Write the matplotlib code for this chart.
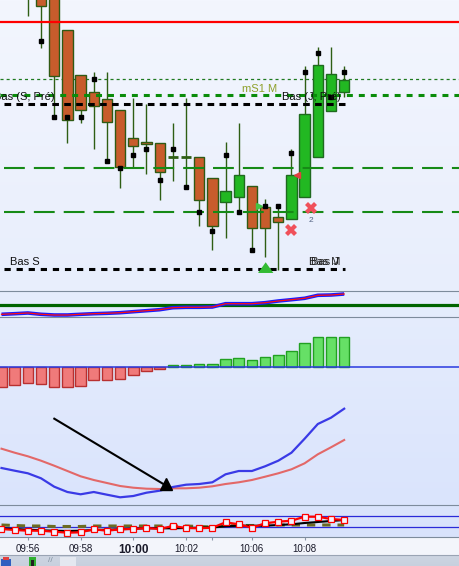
import numpy as np
import matplotlib.pyplot as plt
from matplotlib.patches import Rectangle

plt.rcParams['font.family'] = ['Liberation Sans', 'DejaVu Sans']
plt.rcParams['lines.scale_dashes'] = False

W, H = 459, 566
STEP = 13.18   # pixels per bar
X0 = 1.5       # pixel position of bar 0


def xi(px):
    # pixel column -> bar index (used only for labels / level lines)
    return (px - X0) / STEP


bars = list(range(27))
time_ticks = [2, 6, 10, 14, 16, 19, 23]
time_labels = ['09:56', '09:58', '10:00', '10:02', '', '10:06', '10:08']

candle_i = list(range(2, 27))
c_open = [-40, -15, -5, 30, 75, 92, 99, 110, 138, 142, 143, 157, 157, 157, 178,
          202, 197, 186, 207, 217, 219, 197, 157, 111, 92]
c_close = [-5, 6, 76, 120, 110, 106, 122, 167, 146, 144, 172, 157, 157, 200, 226,
           191, 175, 228, 228, 222, 175, 114, 65, 74, 80]
c_high = [-50, -25, -10, 30, 75, 72, 72, 110, 98, 104, 143, 123, 98, 157, 178,
          142, 123, 186, 199, 204, 149, 66, 47, 47, 66]
c_low = [16, 48, 117, 143, 123, 149, 161, 188, 167, 174, 200, 181, 188, 226, 250,
         238, 212, 250, 257, 270, 219, 197, 157, 111, 97]

stop_i = list(range(3, 27))
stop_lvl = [41, 117, 117, 117, 79, 161, 168, 155, 149, 180, 149, 187, 212, 231,
            155, 212, 250, 206, 206, 153, 72, 53, 97, 72]

trend = [314.3, 313.7, 313, 314.3, 315, 315, 314.3, 313.7, 313.3, 312.7, 311.7,
         310.7, 309.7, 307.7, 307.3, 307.3, 307, 303.7, 303.7, 303.7, 302.7, 301,
         299.7, 298.3, 295.3, 295, 294]

hist = [-20, -18, -16, -17, -20, -20, -19, -13, -13, -12, -8, -4, -2, 2, 2.7,
        3.7, 3.7, 8.7, 9.7, 7.7, 10.7, 12.7, 16.7, 24.7, 30.7, 30.7, 30.7]

fast = [468, 470.7, 473.3, 478.3, 486.7, 492, 494.3, 492, 494.7, 497.3, 496,
        492.7, 490.7, 487, 484.7, 484, 482.3, 474.3, 471, 471, 466.3, 460.7,
        452.7, 438.7, 424, 417.7, 408.7]
slow = [448.7, 452.7, 456.3, 460.7, 465.7, 471, 476.3, 480, 483, 486, 487.7,
        488.7, 489, 488.3, 488.3, 487.7, 486.3, 484, 482.3, 480, 476.7, 473.3,
        469.3, 463.3, 454.3, 447.3, 440]

osc_red = [529, 530, 530.7, 530.7, 531.7, 532.7, 532.3, 529.3, 530.7, 529.3, 529,
           528, 529, 526, 528, 528.3, 527.7, 522.3, 524.3, 527.7, 523.3, 521.7,
           520.7, 516.7, 516.7, 519, 520]
osc_black = [528.3, 529, 529.7, 530.3, 530.7, 531, 530.7, 530, 529.7, 529.3, 528.7,
             528.3, 528.3, 528.3, 528, 527.7, 527.3, 526.3, 525.7, 525.7, 525.7,
             525, 524.3, 523, 522, 521, 520]
osc_olive = [525, 525.5, 526, 526, 526.5, 526.5, 526.5, 526, 526, 526, 526, 526,
             526, 526, 526, 526.5, 527, 526, 525.5, 525.5, 525.5, 525, 525, 525,
             525, 525, 525]

# ---- figure and background ----
fig = plt.figure(figsize=(W / 100, H / 100), dpi=100)
bg = fig.add_axes([0, 0, 1, 1], zorder=-5)
stops_y = [0, 290, 291, 505, 537, 538, 554, 555, 566]
stops_c = ['#f3f6fe', '#e8eefc', '#e6edfc', '#dae4fc', '#d8e2fb', '#f3f5fb',
           '#f3f5fb', '#cdd5e2', '#c8d0de']
rgb = np.array([[int(c[k:k + 2], 16) / 255 for k in (1, 3, 5)] for c in stops_c])
rows = np.arange(H)
grad = np.stack([np.interp(rows, stops_y, rgb[:, k]) for k in range(3)], axis=1)
bg.imshow(grad[:, None, :], aspect='auto', extent=[0, 1, 1, 0])
bg.set_xlim(0, 1)
bg.set_ylim(1, 0)
bg.axis('off')


def pane(top, bottom):
    ax = fig.add_axes([0, 1 - bottom / H, 1, (bottom - top) / H])
    ax.set_facecolor('none')
    ax.set_xlim(xi(0), xi(W))
    ax.set_xticks([])
    ax.set_yticks([])
    for s in ax.spines.values():
        s.set_visible(False)
    return ax


# ---- main price pane ----
ax = pane(0, 290)
ax.set_ylim(290, 0)
wick = '#2e5e14'
ax.vlines(candle_i, c_high, c_low, color=wick, lw=1, zorder=2)
for i, o, c in zip(candle_i, c_open, c_close):
    top, bot = min(o, c), max(o, c)
    if bot - top < 1:
        ax.hlines(o, i - 0.4, i + 0.4, color=wick, lw=2, zorder=3)
        continue
    up = c < o
    ax.bar(i, bot - top, bottom=top, width=0.78,
           color='#22b822' if up else '#c85c2c',
           edgecolor='#1f6a1f' if up else '#2f5a14', lw=1, zorder=3)
ax.plot(stop_i, stop_lvl, 's', color='black', ms=3, zorder=6)

ax.axhline(21.5, color='#ff0000', lw=1.6, zorder=4)
ax.axhline(79.3, color='#1f7a1f', lw=0.9, dashes=(2.2, 2.2), zorder=1)
ax.axhline(95.3, color='#0a8c0a', lw=2.2, dashes=(4.3, 4.3), zorder=4)
ax.plot([xi(4), xi(345)], [104.3, 104.3], color='black', lw=2.2,
        dashes=(4.8, 3.8), zorder=4)
for lvl in (168, 212):
    ax.plot([xi(4), xi(W)], [lvl, lvl], color='#168a16', lw=1.5,
            dashes=(15, 6.5), zorder=4)
ax.plot([xi(4), xi(345)], [269.3, 269.3], color='black', lw=2.2,
        dashes=(4.5, 4.2), zorder=4)

ax.text(xi(-6), 97.5, 'Bas (S, Pré)', fontsize=8, va='center', color='#111111', zorder=7)
ax.text(xi(242), 88.5, 'mS1 M', fontsize=8, va='center', color='#8ea02a', zorder=7)
ax.text(xi(282), 97.5, 'Bas (J, Pré)', fontsize=8, va='center', color='#111111', zorder=7)
ax.text(xi(10), 262, 'Bas S', fontsize=8, va='center', color='#111111', zorder=7)
ax.text(xi(309), 262, 'Bas M', fontsize=8, va='center', color='#222222', zorder=7)
ax.text(xi(311), 262, 'Bas J', fontsize=8, va='center', color='#222222', zorder=7)

ax.plot([xi(291.3), xi(311.3)], [230, 208.3], 'X', ls='none', color='#f0505a',
        ms=8, mew=0, zorder=7)
ax.text(xi(311), 220.5, '2', fontsize=6, ha='center', va='center', color='#506080')
ax.plot(xi(259), 206, '>', color='#44c444', ms=5, zorder=7)
ax.plot(xi(297.5), 174.5, '<', color='#e04040', ms=5, zorder=7)
ax.annotate('', xy=(xi(265.7), 259.5), xytext=(xi(265.7), 274),
            arrowprops=dict(arrowstyle='simple,head_width=1.0,head_length=0.7,tail_width=0.45',
                            color='#33bb33', lw=0, mutation_scale=11), zorder=7)

# ---- trend pane ----
ax2 = pane(290.5, 316.5)
ax2.set_ylim(316.5, 290.5)
for s in ('top', 'bottom'):
    ax2.spines[s].set_visible(True)
    ax2.spines[s].set_color('#7d8b9c')
ax2.axhline(305.3, color='#006400', lw=2.3)
ax2.plot(bars, trend, color='#1a1aff', lw=2.6, solid_capstyle='butt')
ax2.plot(bars, trend, color='#ff1010', lw=0.9)

# ---- histogram pane ----
ax3 = pane(316.5, 392)
ax3.set_ylim(-24.7, 51.3)
hcol = ['#66e066' if v > 0 else '#f07a7a' for v in hist]
hedge = ['#22a022' if v > 0 else '#b83030' for v in hist]
ax3.bar(bars, hist, width=0.8, color=hcol, edgecolor=hedge, lw=1, zorder=2)
ax3.axhline(0, color='#2a3ae0', lw=1.1, zorder=3)

# ---- moving average pane ----
ax4 = pane(392, 505)
ax4.set_ylim(505, 392)
ax4.plot(bars, slow, color='#e36868', lw=1.5)
ax4.plot(bars, fast, color='#3a3ae6', lw=1.6)
ax4.plot([xi(54.3), xi(165)], [418.7, 485], color='black', lw=1.5)
ax4.plot(xi(166.5), 483.5, '^', color='black', ms=8)

# ---- oscillator pane ----
ax5 = pane(505, 537)
ax5.set_ylim(537, 505)
for s in ('top', 'bottom'):
    ax5.spines[s].set_visible(True)
    ax5.spines[s].set_color('#7d8b9c')
ax5.axhline(516.3, color='#2a2ad8', lw=0.9)
ax5.axhline(527.3, color='#2a2ad8', lw=0.9)
ax5.plot(bars, osc_olive, color='#6b6b22', lw=2.2, dashes=(6, 5))
ax5.plot(bars, osc_black, color='black', lw=1.5)
ax5.plot(bars, osc_red, color='#ff0000', lw=1.6, marker='s', ms=4,
         mfc='#f4f4ff', mec='#ff0000', mew=0.9)
ax5.set_xticks(time_ticks)
ax5.set_xticklabels(time_labels)
ax5.tick_params(axis='x', direction='out', length=2.5, color='#8a96a8',
                labelsize=7, labelcolor='#1a1a2a', pad=2.5)
lab = ax5.get_xticklabels()[2]
lab.set_fontweight('bold')
lab.set_fontsize(8.5)

# ---- toolbar strip ----
fig.add_artist(plt.Line2D([0, 1], [1 - 555 / H] * 2, color='#9aa4b4', lw=0.8))
for x, y, w, h, col in [(1, 559, 10, 7, '#2f5fc0'), (3, 557, 6, 3, '#e04040'),
                        (29, 557, 7, 9, '#30b030'), (31, 560, 3, 6, '#202020'),
                        (60, 557, 16, 9, '#e4e8f0')]:
    fig.add_artist(Rectangle((x / W, 1 - (y + h) / H), w / W, h / H,
                             transform=fig.transFigure, color=col, lw=0))
fig.text(48 / W, 1 - 561 / H, '//', fontsize=6, color='#8090a0', va='center')

fig.savefig('out.png', dpi=100)
